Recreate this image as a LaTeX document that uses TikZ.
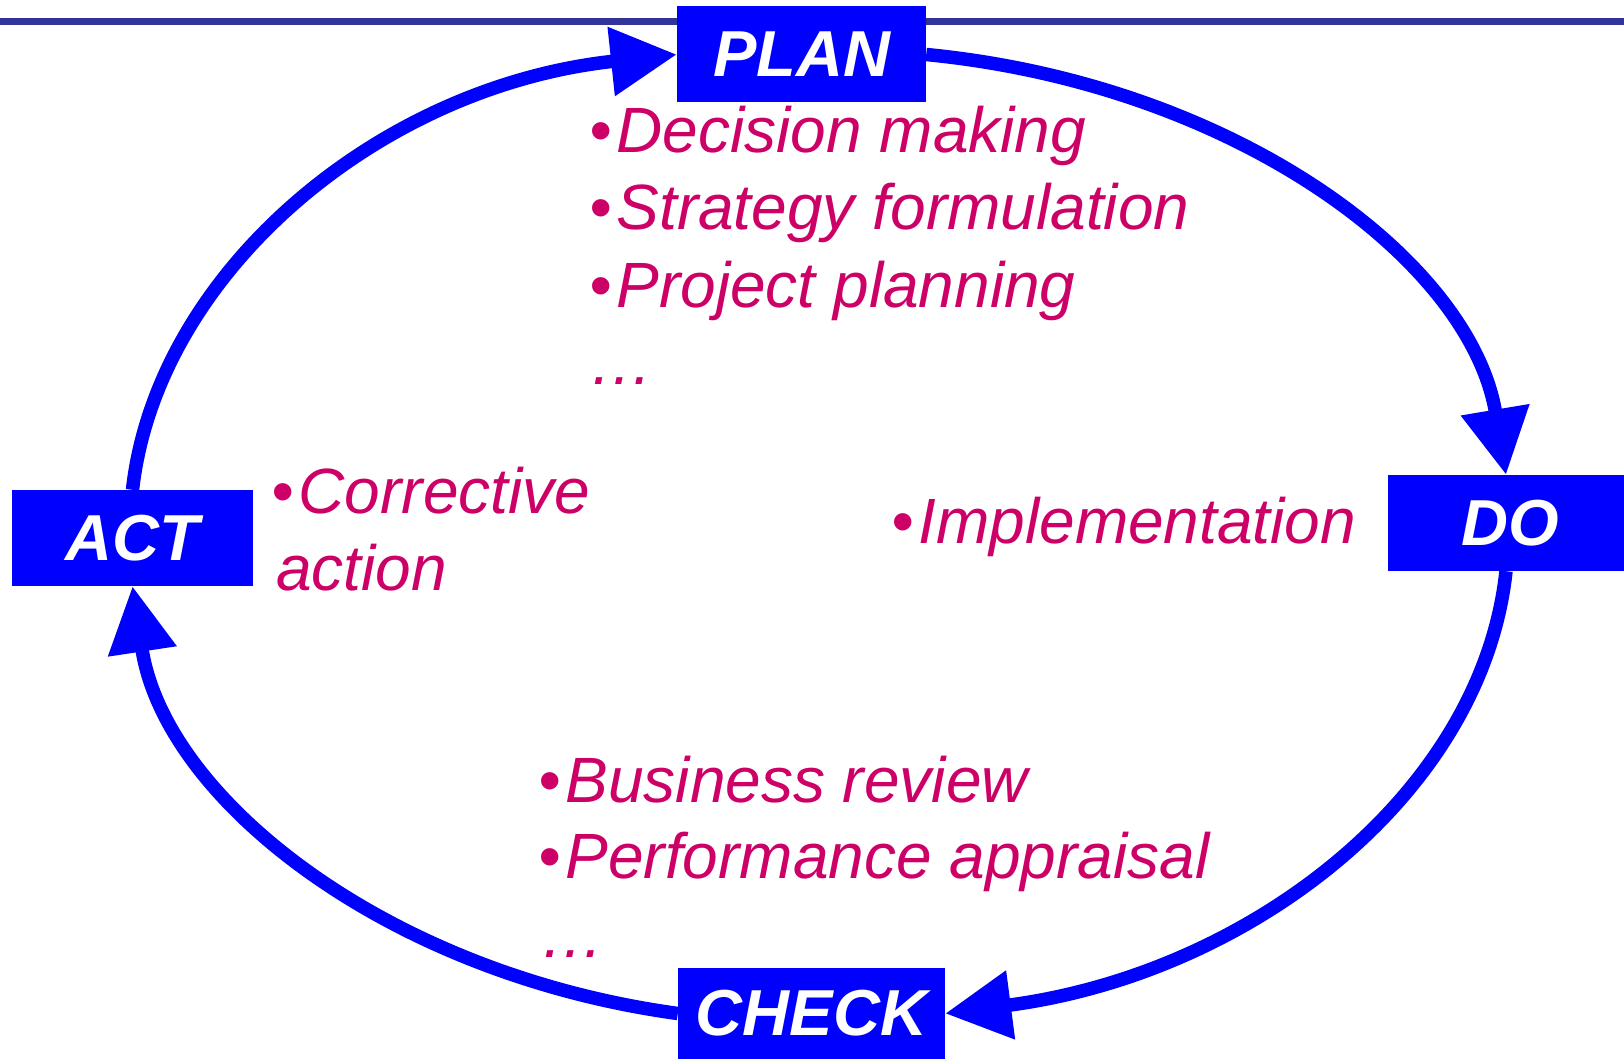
\documentclass[tikz,border=0pt]{standalone}
\usepackage{fontspec}
\setmainfont{Liberation Sans}
\usetikzlibrary{arrows.meta}
\definecolor{CycleBlue}{RGB}{0,0,255}
\definecolor{NotePink}{RGB}{204,0,102}
\definecolor{RuleBlue}{RGB}{51,51,153}
\newcommand{\notebullet}{•\kern5pt}
\tikzset{
  stagebox/.style={fill=CycleBlue,text=white,inner sep=0pt,minimum height=96pt,font=\fontsize{65}{78}\selectfont\bfseries\itshape},
  cyclearrow/.style={-{Triangle[length=66pt,width=66pt]},line width=13.5pt,draw=CycleBlue},
  notetext/.style={text=NotePink,inner sep=0pt,anchor=base west,font=\fontsize{64}{77}\selectfont\itshape}
}

\begin{document}
\begin{tikzpicture}[x=1pt,y=-1pt]
\useasboundingbox (0,0) rectangle (1624,1059);
% rule along the top
\draw[RuleBlue,line width=7pt] (0,21.5) -- (1624,21.5);
% the four stages
\node[stagebox, minimum width=249pt] (plan) at (801.5,54.5) {PLAN};
\node[stagebox, minimum width=236pt] (do) at (1506,523) {\kern8pt DO};
\node[stagebox, minimum width=267pt, minimum height=91pt] (check) at (811.5,1013.5) {CHECK};
\node[stagebox, minimum width=241pt] (act) at (132.5,538) {ACT};
% notes inside the cycle
\node[notetext] (dm) at (589,153) {\notebullet Decision making};
\node[notetext] (sf) at (589,230) {\notebullet Strategy formulation};
\node[notetext] (pp) at (589,307) {\notebullet Project planning};
\node[notetext] (planmore) at (589,384) {…};
\node[notetext] (ca) at (271,513) {\notebullet Corrective};
\node[notetext] (ca2) at (276,590) {action};
\node[notetext] (im) at (891,543) {\notebullet Implementation};
\node[notetext] (br) at (538,802) {\notebullet Business review};
\node[notetext] (pa) at (538,878) {\notebullet Performance appraisal};
\node[notetext] (checkmore) at (540,957) {…};
% elliptic arrows
\draw[cyclearrow] (act.north) .. controls +(24,-215) and +(-300,32) .. (plan.west);
\draw[cyclearrow] (plan.east) .. controls +(308,30) and +(-36,-215) .. (do.north);
\draw[cyclearrow] (do.south) .. controls +(-24,222) and +(306,-40) .. (check.east);
\draw[cyclearrow] (check.west) .. controls +(-292,-40) and +(32,212) .. (act.south);
\end{tikzpicture}
\end{document}
